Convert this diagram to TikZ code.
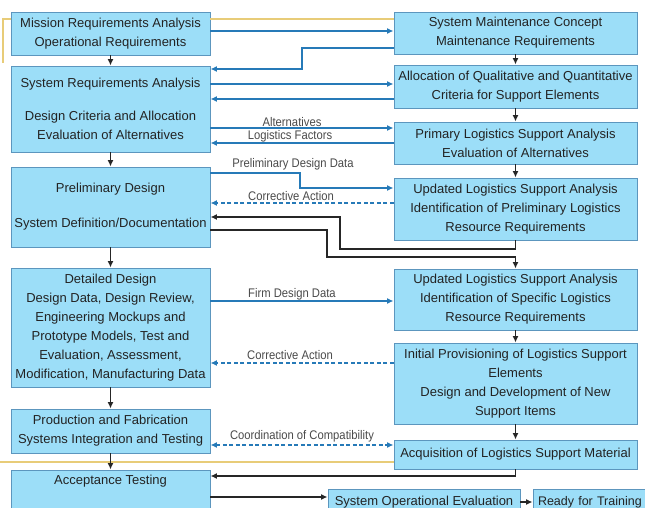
\documentclass[tikz,border=0pt]{standalone}
\usepackage{fontspec}
\setmainfont{Liberation Sans}
\newfontfamily\lblfont[FakeStretch=0.9]{Liberation Sans}
\usetikzlibrary{arrows.meta}
\definecolor{boxfill}{RGB}{156,222,248}
\definecolor{boxline}{RGB}{92,150,190}
\definecolor{flowblue}{RGB}{38,122,184}
\definecolor{phaseline}{RGB}{232,204,120}
\definecolor{boxtext}{RGB}{35,35,35}
\definecolor{lbltext}{RGB}{75,75,75}
\tikzset{
  box/.style={draw=boxline, line width=0.9pt, fill=boxfill, align=center,
    inner sep=0pt, text=boxtext, font=\fontsize{13}{19}\selectfont},
  lbox/.style={box, minimum width=199pt},
  rbox/.style={box, minimum width=243pt},
  head/.tip={Latex[length=6.5pt,width=6pt]},
  tip/.style={-head},
  blk/.style={tip, draw=black!85, line width=1.4pt},
  blu/.style={tip, draw=flowblue, line width=1.4pt},
  bluback/.style={blu, dashed, dash pattern=on 4pt off 2.5pt},
  phase/.style={draw=phaseline, line width=1.2pt},
  lbl/.style={text=lbltext, font=\lblfont\fontsize{12.5}{14}\selectfont, inner sep=0pt}
}
\begin{document}
\begin{tikzpicture}[x=1pt,y=-1pt]
\clip (0,0) rectangle (645,508);
\fill[white] (0,0) rectangle (645,508);

% life-cycle activities (left column)
\node[lbox, minimum height=43pt] (L1) at (110.5,33.5)
  {Mission Requirements Analysis\\Operational Requirements};
\node[lbox, minimum height=86pt] (L2) at (110.5,109)
  {System Requirements Analysis\\[14pt]Design Criteria and Allocation\\Evaluation of Alternatives};
\node[lbox, minimum height=80pt] (L3) at (110.5,207)
  {Preliminary Design\\[16pt]System Definition/Documentation};
\node[lbox, minimum height=119pt] (L4) at (110.5,327.5)
  {Detailed Design\\Design Data, Design Review,\\Engineering Mockups and\\Prototype Models, Test and\\Evaluation, Assessment,\\Modification, Manufacturing Data};
\node[lbox, minimum height=44pt] (L5) at (110.5,431)
  {Production and Fabrication\\Systems Integration and Testing};
\node[lbox, minimum height=60pt] (L6) at (110.5,500)
  {Acceptance Testing\\[15pt]\strut};

% logistics support activities (right column)
\node[rbox, minimum height=42pt] (R1) at (515.5,33)
  {System Maintenance Concept\\Maintenance Requirements};
\node[rbox, minimum height=43pt] (R2) at (515.5,86.5)
  {Allocation of Qualitative and Quantitative\\Criteria for Support Elements};
\node[rbox, minimum height=42pt] (R3) at (515.5,143)
  {Primary Logistics Support Analysis\\Evaluation of Alternatives};
\node[rbox, minimum height=62pt] (R4) at (515.5,209)
  {Updated Logistics Support Analysis\\Identification of Preliminary Logistics\\Resource Requirements};
\node[rbox, minimum height=61pt] (R5) at (515.5,299.5)
  {Updated Logistics Support Analysis\\Identification of Specific Logistics\\Resource Requirements};
\node[rbox, minimum height=81pt] (R6) at (515.5,383.5)
  {Initial Provisioning of Logistics Support\\Elements\\Design and Development of New\\Support Items};
\node[rbox, minimum height=29pt] (R7) at (515.5,454.5)
  {Acquisition of Logistics Support Material};

% operational phase
\node[box, minimum width=192pt, minimum height=26pt] (SOE) at (424,502)
  {System Operational Evaluation};
\node[box, minimum width=130pt, minimum height=26pt, text width=126pt, align=left,
  font=\fontsize{12.5}{19}\selectfont] (RT) at (598,502)
  {\hspace*{3pt}Ready for Training};

% phase separators
\coordinate (Yleft) at (3,63);
\coordinate (Yedge) at (0,462);
\draw[phase] (L1.west |- 0,19) -| (Yleft);
\draw[phase] (L1.east |- 0,19) -- (R1.west |- 0,19);
\draw[phase] (Yedge) -- (R7.west |- 0,462);

% sequence within each column
\draw[blk] (L1) -- (L2);
\draw[blk] (L2) -- (L3);
\draw[blk] (L3) -- (L4);
\draw[blk] (L4) -- (L5);
\draw[blk] (L5) -- (L6);
\draw[blk] (R1) -- (R2);
\draw[blk] (R2) -- (R3);
\draw[blk] (R3) -- (R4);
\draw[blk] (R5) -- (R6);
\draw[blk] (R6) -- (R7);

% feedback loops drawn in black
\draw[blk] (R4.south) |- (340,249) |- (L3.east |- 0,217);
\draw[blk] (L3.east |- 0,230) -| (327,257) -| (R5.north);
\draw[blk] (R7.south) |- (L6.east |- 0,476);
\draw[blk] (L6.east |- 0,497) -- (SOE.west |- 0,497);
\draw[blk] (SOE) -- (RT);

% information flows between columns
\draw[blu] (L1.east |- 0,31) -- (R1.west |- 0,31);
\draw[blu] (R1.west |- 0,48) -| (302,69) -- (L2.east |- 0,69);
\draw[blu] (L2.east |- 0,84) -- (R2.west |- 0,84);
\draw[blu] (R2.west |- 0,99) -- (L2.east |- 0,99);
\draw[blu] (L2.east |- 0,128) -- (R3.west |- 0,128);
\draw[blu] (R3.west |- 0,143) -- (L2.east |- 0,143);
\draw[blu] (L3.east |- 0,173) -| (300,188) -- (R4.west |- 0,188);
\draw[bluback] (R4.west |- 0,203) -- (L3.east |- 0,203);
\draw[blu] (L4.east |- 0,301) -- (R5.west |- 0,301);
\draw[bluback] (R6.west |- 0,363) -- (L4.east |- 0,363);
\draw[bluback, head-head] (L5.east |- 0,445) -- (R7.west |- 0,445);

% flow labels
\node[lbl] (tAlt) at (292,122) {Alternatives};
\node[lbl] (tLog) at (290,136.5) {Logistics Factors};
\node[lbl] (tPdd) at (293,164) {Preliminary Design Data};
\node[lbl] (tCa1) at (291,196.5) {Corrective Action};
\node[lbl] (tFdd) at (292,294) {Firm Design Data};
\node[lbl] (tCa2) at (290,355) {Corrective Action};
\node[lbl] (tCoc) at (302,436) {Coordination of Compatibility};
\end{tikzpicture}
\end{document}
